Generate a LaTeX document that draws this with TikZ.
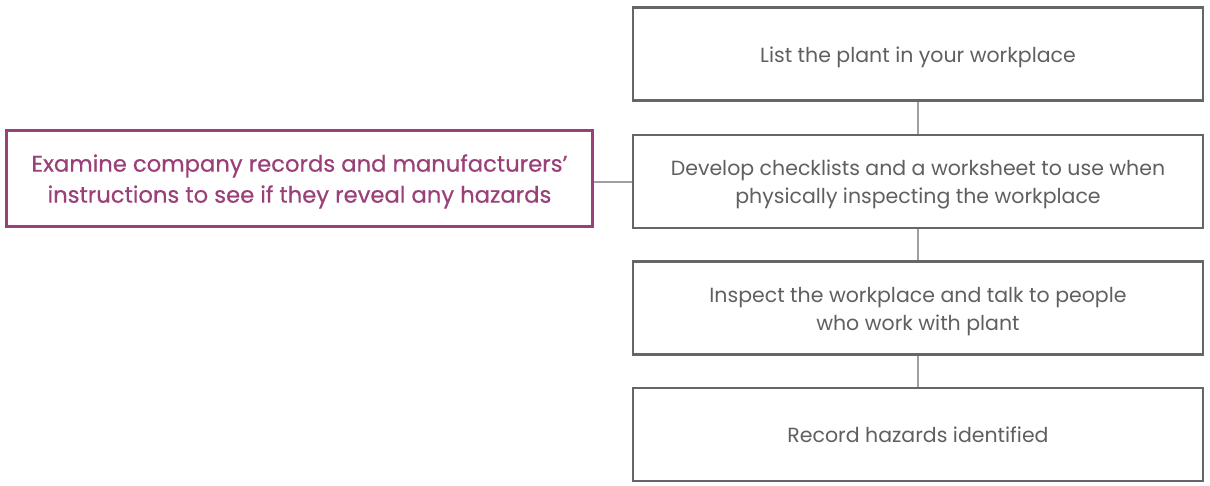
\documentclass[tikz,border=0pt]{standalone}
\usepackage{fontspec}
\setmainfont{Poppins}
\definecolor{boxgray}{HTML}{666666}
\definecolor{txtgray}{HTML}{5F5F5F}
\definecolor{linegray}{HTML}{A0A0A4}
\definecolor{plum}{HTML}{9A3F78}
\newcommand\stacktext[1]{\raisebox{-2.5pt}[\height][\depth]{\begin{tabular}{@{}c@{}}#1\end{tabular}}}
\begin{document}
\begin{tikzpicture}[x=1pt,y=-1pt,
  stepbox/.style={draw=boxgray,line width=2.5pt,minimum width=570pt,minimum height=93pt,align=center,text=txtgray,font=\fontsize{20.5}{28}\selectfont,inner sep=0pt},
  sidebox/.style={draw=plum,line width=2.5pt,minimum width=586pt,minimum height=96pt,align=center,text=plum,font=\fontsize{22.7}{31}\selectfont\addfontfeature{FakeBold=0.4},inner sep=0pt},
  conn/.style={draw=linegray,line width=2.5pt}]
\useasboundingbox (0,0) rectangle (1210,486);
\node[stepbox] (s1) at (918,54) {\stacktext{List the plant in your workplace}};
\node[stepbox] (s2) at (918,181.5) {\stacktext{Develop checklists and a worksheet to use when\\physically inspecting the workplace}};
\node[stepbox] (s3) at (918,308) {\stacktext{Inspect the workplace and talk to people\\who work with plant}};
\node[stepbox] (s4) at (918,434.5) {\stacktext{Record hazards identified}};
\node[sidebox] (e) at (299.5,178.5) {\stacktext{Examine company records and manufacturers’\\instructions to see if they reveal any hazards}};
\path[conn] (s1) -- (s2);
\path[conn] (s2) -- (s3);
\path[conn] (s3) -- (s4);
\path[conn] (e.east |- 0,182) -- (s2.west |- 0,182);
\end{tikzpicture}
\end{document}
